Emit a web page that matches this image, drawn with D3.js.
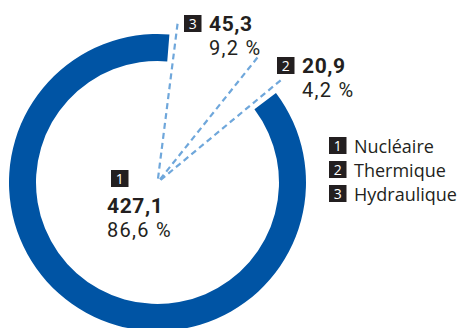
<!DOCTYPE html>
<html><head><meta charset="utf-8">
<script src="https://cdn.jsdelivr.net/npm/d3@7"></script>
<style>body{margin:0;background:#fff}svg{display:block}text{font-family:"Open Sans",Roboto,sans-serif;fill:#231f20}text.num{font-family:Roboto,"Open Sans",sans-serif}</style>
</head><body><svg id="c" width="459" height="328"></svg>
<script>
const categories = ["Nucléaire", "Thermique", "Hydraulique"];
const codes = ["1", "2", "3"];
const values = [427.1, 20.9, 45.3];
const percents = ["86,6 %", "4,2 %", "9,2 %"];
const valueLabels = ["427,1", "20,9", "45,3"];

const svg = d3.select("#c");
const cx = 157.5, cy = 182.5, rOut = 148.5, rIn = 121.5;
const deg = Math.PI / 180;
const g = svg.append("g").attr("transform", `translate(${cx},${cy})`);

// pie order clockwise: Hydraulique, Thermique, Nucléaire
const order = [2, 1, 0];
const start = 4.6 * deg;
const pie = d3.pie().sort(null).value(i => values[i]).startAngle(start).endAngle(start + 2 * Math.PI);
const arcs = pie(order);
const arc = d3.arc().innerRadius(rIn).outerRadius(rOut);
g.selectAll("path.seg").data(arcs).join("path").attr("class", "seg")
  .attr("d", arc)
  .attr("fill", d => d.data === 0 ? "#0054a4" : "none");

const byIdx = {}; arcs.forEach(a => byIdx[a.data] = a);
// leader lines at the edges of the small segments
const leaderAngles = [byIdx[2].startAngle + 2.6 * deg, byIdx[1].startAngle + 1.0 * deg, byIdx[1].endAngle - 2.6 * deg];
const rLead = 161;
g.selectAll("line.lead").data(leaderAngles).join("line").attr("class", "lead")
  .attr("x1", a => Math.sin(a) * 4).attr("y1", a => -Math.cos(a) * 4)
  .attr("x2", a => Math.sin(a) * rLead).attr("y2", a => -Math.cos(a) * rLead)
  .attr("stroke", "#6fa7db").attr("stroke-width", 2.2).attr("stroke-dasharray", "6,4");

// value labels
const labelPos = [[107, 170], [277, 57], [184, 15]];
function badge(sel, x, y, t) {
  sel.append("rect").attr("x", x).attr("y", y).attr("width", 17.5).attr("height", 17).attr("fill", "#231f20");
  sel.append("text").attr("x", x + 8.75).attr("y", y + 14).attr("text-anchor", "middle")
    .attr("font-size", 14).style("fill", "#fff").text(t);
}
[0, 1, 2].forEach(i => {
  const [x, y] = labelPos[i];
  const lg = svg.append("g");
  const tx = i === 0 ? x : x + 25;
  const ty = i === 0 ? y + 43 : y + 16;
  if (i === 0) badge(lg, x + 4, y, codes[i]); else badge(lg, x, y, codes[i]);
  lg.append("text").attr("class", "num").attr("x", tx).attr("y", ty).attr("font-size", 21)
    .attr("font-weight", 700).attr("letter-spacing", 0.6).text(valueLabels[i]);
  lg.append("text").attr("class", "num").attr("x", tx).attr("y", ty + 24).attr("font-size", 20)
    .attr("letter-spacing", 1.3).text(percents[i]);
});

// legend
const leg = svg.append("g").attr("transform", "translate(329,137)");
categories.forEach((c, i) => {
  const row = leg.append("g").attr("transform", `translate(0,${i * 24})`);
  badge(row, 0, 0, codes[i]);
  row.append("text").attr("x", 25).attr("y", 16).attr("font-size", 18).text(c);
});
</script></body></html>
